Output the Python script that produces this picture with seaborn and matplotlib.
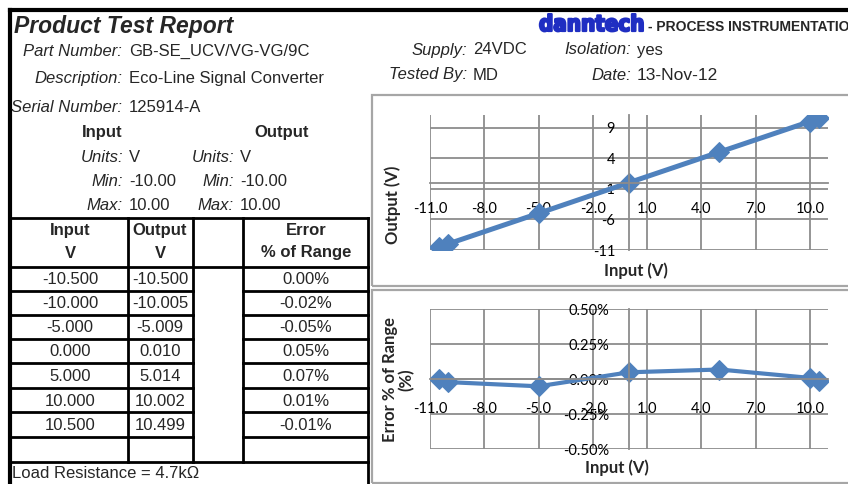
import pandas as pd
import matplotlib
matplotlib.use("Agg")
import matplotlib.pyplot as plt
import matplotlib.patheffects as pe
import seaborn as sns
from matplotlib.lines import Line2D
from matplotlib.patches import Rectangle

# ---------------------------------------------------------------------------
# test data
# ---------------------------------------------------------------------------
input_v = [-10.5, -10.0, -5.0, 0.0, 5.0, 10.0, 10.5]
output_v = [-10.500, -10.005, -5.009, 0.010, 5.014, 10.002, 10.499]
error_pct = [0.00, -0.02, -0.05, 0.05, 0.07, 0.01, -0.01]

x_ticks = [-11, -8, -5, -2, 1, 4, 7, 10]
out_ticks = [-11, -6, -1, 4, 9]
err_ticks = [-0.50, -0.25, 0.00, 0.25, 0.50]

header_left = [("Part Number:", "GB-SE_UCV/VG-VG/9C"),
               ("Description:", "Eco-Line Signal Converter"),
               ("Serial Number:", "125914-A")]

W, H = 848, 484
BLUE = "#4F81BD"
GRID = "#8c8c8c"


def fx(x):
    return x / W


def fy(y):
    return 1 - y / H


def txt(fig, x, y, s, **kw):
    kw.setdefault("va", "center")
    kw.setdefault("fontsize", 12)
    return fig.text(fx(x), fy(y), s, **kw)


def line(fig, x0, y0, x1, y1, lw=2.0, color="black"):
    fig.add_artist(Line2D([fx(x0), fx(x1)], [fy(y0), fy(y1)], lw=lw,
                          color=color, transform=fig.transFigure,
                          solid_capstyle="projecting"))


def style_chart(ax, yticks, ylim, ylabels, xpad):
    ax.set_xlim(-11, 11)
    ax.set_ylim(*ylim)
    ax.set_xticks(x_ticks)
    ax.set_xticklabels([f"{t:.1f}" for t in x_ticks])
    ax.set_yticks(yticks)
    ax.set_yticklabels(ylabels)
    ax.grid(True, color=GRID, lw=1.3)
    ax.set_axisbelow(True)
    for s in ["top", "right"]:
        ax.spines[s].set_visible(False)
    for s in ["left", "bottom"]:
        ax.spines[s].set_position(("data", 0))
        ax.spines[s].set_color(GRID)
        ax.spines[s].set_linewidth(1.3)
    ax.tick_params(length=0, labelsize=10.5, colors="black")
    ax.tick_params(axis="x", pad=xpad)
    ax.tick_params(axis="y", pad=10)
    for lab in ax.get_xticklabels() + ax.get_yticklabels():
        lab.set_family("Lato")
    ax.set_facecolor("none")


def main():
    sns.set_theme(style="white")
    plt.rcParams["font.family"] = ["Liberation Sans", "DejaVu Sans"]

    fig = plt.figure(figsize=(W / 100, H / 100), dpi=100)
    fig.patch.set_facecolor("white")

    df = pd.DataFrame({"input": input_v, "output": output_v,
                       "error": error_pct})

    # ---------------- frame ----------------
    line(fig, 10, 10, 860, 10, lw=3.0)
    line(fig, 10, 10, 10, 490, lw=3.0)

    # ---------------- title block ----------------
    txt(fig, 14, 26, "Product Test Report", fontsize=16.5,
        fontweight="bold", fontstyle="italic")
    rows_y = [51, 79, 108]
    for (lab, val), y in zip(header_left, rows_y):
        txt(fig, 122, y, lab, ha="right", fontstyle="italic")
        txt(fig, 129, y, val)

    txt(fig, 102, 133, "Input", ha="center", fontweight="bold")
    txt(fig, 282, 133, "Output", ha="center", fontweight="bold")
    for y, lab, val in [(157, "Units:", "V"), (181, "Min:", "-10.00"),
                        (205, "Max:", "10.00")]:
        txt(fig, 123, y, lab, ha="right", fontstyle="italic")
        txt(fig, 129, y, val)
        txt(fig, 234, y, lab, ha="right", fontstyle="italic")
        txt(fig, 240, y, val)

    logo = txt(fig, 539, 25, "danntech", fontsize=16, fontweight="bold",
               color="#1f2ec2", family="DejaVu Sans",
               fontstretch="condensed")
    logo.set_path_effects([pe.withStroke(linewidth=1.6,
                                         foreground="#1f2ec2")])
    txt(fig, 648, 27, "- PROCESS INSTRUMENTATION", fontsize=10,
        fontweight="bold")
    txt(fig, 467, 50, "Supply:", ha="right", fontstyle="italic")
    txt(fig, 473, 50, "24VDC")
    txt(fig, 631, 50, "Isolation:", ha="right", fontstyle="italic")
    txt(fig, 637, 50, "yes")
    txt(fig, 467, 75, "Tested By:", ha="right", fontstyle="italic")
    txt(fig, 473, 75, "MD")
    txt(fig, 631, 75, "Date:", ha="right", fontstyle="italic")
    txt(fig, 637, 75, "13-Nov-12", fontsize=12.5)

    # ---------------- table ----------------
    row_lines = [267, 291, 315, 339, 363, 388, 412, 437, 462]
    line(fig, 10, 218, 368, 218)
    line(fig, 10, 267, 368, 267)
    line(fig, 10, 462, 368, 462)
    for y in row_lines[1:-1]:
        line(fig, 10, y, 193, y)
        line(fig, 243, y, 368, y)
    for x in [128, 193, 243]:
        line(fig, x, 218, x, 462)
    line(fig, 368, 218, 368, 490)

    for cx, top, bot in [(70, "Input", "V"), (160, "Output", "V"),
                         (306, "Error", "% of Range")]:
        txt(fig, cx, 230, top, ha="center", fontweight="bold")
        txt(fig, cx, 253, bot, ha="center", fontweight="bold")
    for i in range(len(input_v)):
        cy = (row_lines[i] + row_lines[i + 1]) / 2 + 1
        txt(fig, 70, cy, f"{input_v[i]:.3f}", ha="center")
        txt(fig, 160, cy, f"{output_v[i]:.3f}", ha="center")
        txt(fig, 306, cy, f"{error_pct[i]:.2f}%", ha="center")
    txt(fig, 12, 474, "Load Resistance = 4.7k\u03a9")

    # ---------------- chart boxes ----------------
    for y0, y1 in [(95, 286), (290, 483)]:
        fig.add_artist(Rectangle((fx(372), fy(y1)), fx(880) - fx(372),
                                 fy(y0) - fy(y1), fill=False,
                                 edgecolor="#a6a6a6", lw=1.6,
                                 transform=fig.transFigure))

    # ---------------- output chart ----------------
    ax1 = fig.add_axes([fx(430), fy(250), 398 / W, 134.6 / H])
    sns.lineplot(data=df, x="input", y="output", ax=ax1, color=BLUE,
                 lw=3.6, marker="D", markersize=10, markeredgecolor=BLUE)
    style_chart(ax1, out_ticks, (-11, 11), [str(t) for t in out_ticks], 14)
    ax1.set_xlabel("Input (V)", family="Lato", fontweight="bold",
                   fontsize=12, va="center")
    ax1.xaxis.set_label_coords(0.518, -0.152)
    ax1.set_ylabel("Output (V)", family="Lato", fontweight="bold",
                   fontsize=12, va="center", ha="center")
    ax1.yaxis.set_label_coords(-0.093, 0.334)

    # ---------------- error chart ----------------
    ax2 = fig.add_axes([fx(430), fy(449.3), 398 / W, 140 / H])
    sns.lineplot(data=df, x="input", y="error", ax=ax2, color=BLUE,
                 lw=3.0, marker="D", markersize=10, markeredgecolor=BLUE)
    style_chart(ax2, err_ticks, (-0.5, 0.5),
                [f"{t:.2f}%" for t in err_ticks], 16)
    ax2.tick_params(axis="y", pad=14)
    ax2.set_xlabel("Input (V)", family="Lato", fontweight="bold",
                   fontsize=12, va="center")
    ax2.xaxis.set_label_coords(0.47, -0.134)
    ax2.set_ylabel("Error % of Range\n(%)", family="Lato",
                   fontweight="bold", fontsize=12, va="center",
                   ha="center", linespacing=1.0)
    ax2.yaxis.set_label_coords(-0.08, 0.495)

    fig.savefig("out.png", dpi=100)


if __name__ == "__main__":
    main()
